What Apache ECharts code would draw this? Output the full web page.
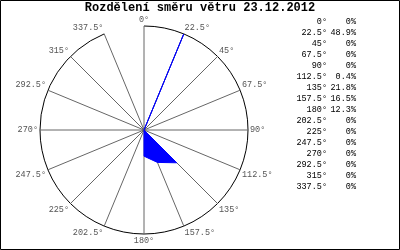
<!DOCTYPE html>
<html><head><meta charset="utf-8">
<script src="https://cdn.jsdelivr.net/npm/echarts@6/dist/echarts.min.js"></script>
<style>html,body{margin:0;padding:0;background:#fff}#c{width:400px;height:250px}</style>
</head><body><div id="c"></div>
<script>
const directions = ['0°','22.5°','45°','67.5°','90°','112.5°','135°','157.5°','180°','202.5°','225°','247.5°','270°','292.5°','315°','337.5°'];
const shares = [0, 48.9, 0, 0, 0, 0.4, 21.8, 16.5, 12.3, 0, 0, 0, 0, 0, 0, 0];
const shareLabels = ['0%','48.9%','0%','0%','0%','0.4%','21.8%','16.5%','12.3%','0%','0%','0%','0%','0%','0%','0%'];
const titleText = 'Rozdělení směru větru 23.12.2012';
const radiusMax = 48.9;

const mono = '"Liberation Mono", "DejaVu Sans Mono", monospace';
const chart = echarts.init(document.getElementById('c'), null, {renderer: 'canvas'});

const tableEls = [];
directions.forEach((d, i) => {
  tableEls.push({type: 'text', right: 73, top: 17 + i * 11, style: {text: d, font: '8.5px ' + mono, fill: '#000', align: 'right'}});
  tableEls.push({type: 'text', right: 44, top: 17 + i * 11, style: {text: shareLabels[i], font: '8.5px ' + mono, fill: '#000', align: 'right'}});
});

chart.setOption({
  animation: false,
  title: {text: titleText, left: 'center', top: 2, padding: 0, textStyle: {fontFamily: mono, fontSize: 12, fontWeight: 'bold', color: '#000'}},
  polar: {center: [144, 130], radius: 104},
  angleAxis: {
    type: 'category', data: directions, startAngle: 90, clockwise: true, boundaryGap: false,
    axisLine: {show: false},
    axisTick: {show: false},
    splitLine: {show: true, lineStyle: {color: '#666', width: 1}},
    axisLabel: {color: '#555', fontFamily: mono, fontSize: 8.5, margin: 2}
  },
  radiusAxis: {type: 'value', min: 0, max: radiusMax, interval: radiusMax,
    axisLine: {show: false}, axisTick: {show: false}, axisLabel: {show: false},
    splitLine: {show: true, lineStyle: {color: '#000', width: 1}}},
  series: [{
    type: 'line', coordinateSystem: 'polar', data: shares, symbol: 'none',
    lineStyle: {color: '#0000ff', width: 1}, areaStyle: {color: '#0000ff', opacity: 1}
  }],
  graphic: [{type: 'rect', shape: {x: 0.5, y: 0.5, width: 399, height: 249}, style: {fill: 'none', stroke: '#000', lineWidth: 1}}].concat(tableEls)
});
</script></body></html>
